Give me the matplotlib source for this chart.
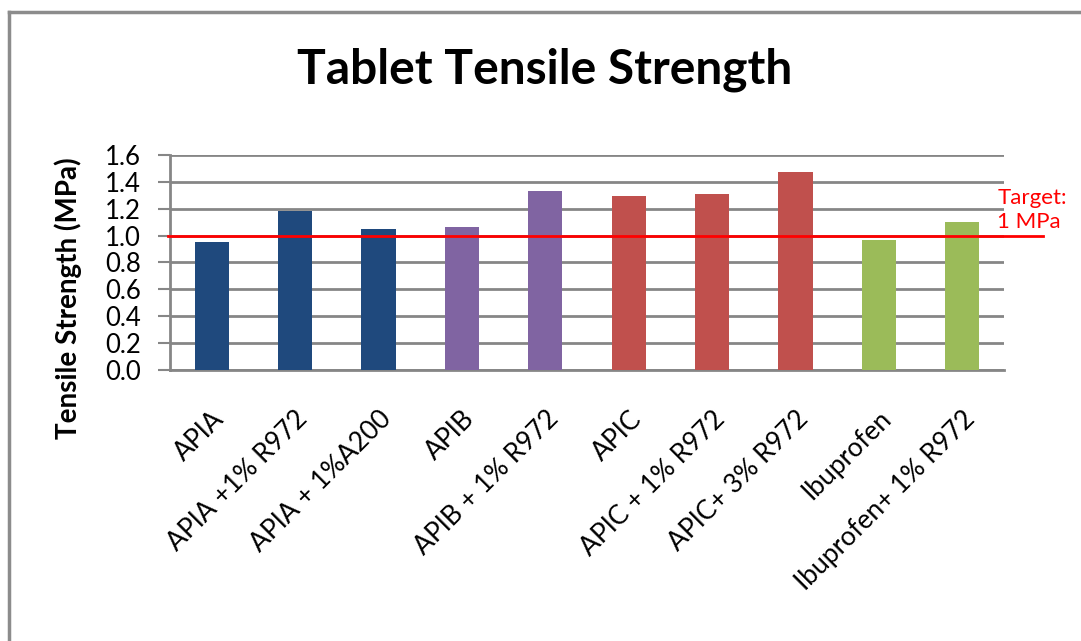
import matplotlib
matplotlib.use("Agg")
import matplotlib.pyplot as plt
from matplotlib.lines import Line2D

# chart data
categories = ["APIA", "APIA +1% R972", "APIA + 1%A200", "APIB", "APIB + 1% R972",
              "APIC", "APIC + 1% R972", "APIC+ 3% R972", "Ibuprofen", "Ibuprofen+ 1% R972"]
strength = [0.95, 1.18, 1.05, 1.065, 1.33, 1.295, 1.31, 1.47, 0.965, 1.10]
bar_colors = ["#1F497D", "#1F497D", "#1F497D", "#8064A2", "#8064A2",
              "#C0504D", "#C0504D", "#C0504D", "#9BBB59", "#9BBB59"]
target = 1.0
yticks = [0.0, 0.2, 0.4, 0.6, 0.8, 1.0, 1.2, 1.4, 1.6]

plt.rcParams["font.family"] = ["Lato", "DejaVu Sans"]

fig = plt.figure(figsize=(10.81, 6.41), dpi=100)
ax = fig.add_axes([0.1573, 0.4228, 0.7715, 0.3354])

x = list(range(len(categories)))
ax.bar(x, strength, width=0.41, color=bar_colors, zorder=3)

# target line runs a bit past the plot area on the right
ax.plot([-0.52, 9.97], [target, target], color="#FF0000", lw=2, zorder=4, clip_on=False)
ax.text(9.42, 1.19, "Target:\n1 MPa", color="#FF0000", fontsize=16,
        ha="left", va="center", linespacing=1.2)

ax.set_xlim(-0.5, 9.5)
ax.set_ylim(0, 1.6)
ax.set_yticks(yticks)
ax.set_yticklabels([f"{v:.1f}" for v in yticks], fontsize=18.5)
ax.yaxis.grid(True, color="#868686", lw=2, zorder=0)

ax.set_xticks(x)
ax.set_xticklabels(categories, rotation=45, ha="right", rotation_mode="anchor", fontsize=19)
ax.tick_params(axis="x", length=0, pad=26)
ax.tick_params(axis="y", length=9, width=1.5, color="#868686", pad=12)

for side in ["top", "right"]:
    ax.spines[side].set_visible(False)
for side in ["left", "bottom"]:
    ax.spines[side].set_color("#868686")
    ax.spines[side].set_linewidth(2)

fig.text(68 / 1081, 1 - 298 / 641, "Tensile Strength (MPa)", fontsize=20,
         fontweight="bold", rotation=90, ha="center", va="center")
fig.text(0.504, 0.891, "Tablet Tensile Strength", fontsize=34.5, fontweight="bold",
         ha="center", va="center")

# chart-area border (left and top edges are visible)
fig.add_artist(Line2D([9 / 1081, 9 / 1081], [0, 1 - 12 / 641], color="#8C8C8C", lw=2.5))
fig.add_artist(Line2D([9 / 1081, 1], [1 - 12 / 641, 1 - 12 / 641], color="#8C8C8C", lw=2.5))

fig.savefig("out.png", dpi=100)
